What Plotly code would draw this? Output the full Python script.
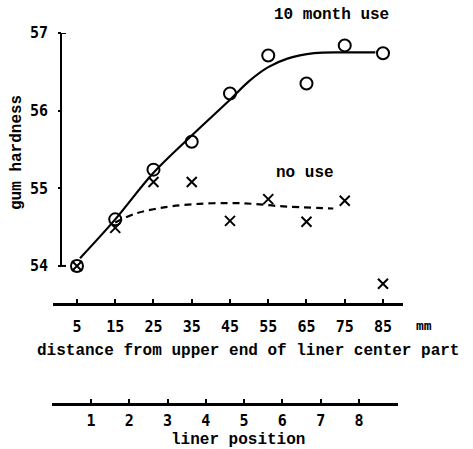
import plotly.graph_objects as go

W, H = 473, 449

# measured distance from the upper end of the liner centre part (mm)
distance_mm = [5, 15, 25, 35, 45, 55, 65, 75, 85]
# gum hardness after 10 months of use (circles)
hardness_10_month = [54.0, 54.6, 55.24, 55.6, 56.22, 56.71, 56.35, 56.84, 56.74]
# gum hardness without use (crosses)
hardness_no_use = [54.0, 54.49, 55.08, 55.08, 54.58, 54.86, 54.57, 54.84, 53.77]

# hand-drawn trend lines through the two series
trend_10_month_x = [5.8, 15, 25, 35, 45, 50, 55, 60, 67, 75, 83]
trend_10_month_y = [54.10, 54.60, 55.20, 55.68, 56.14, 56.38, 56.56, 56.67, 56.74, 56.75, 56.75]
trend_no_use_x = [15, 20, 25, 30, 37, 45, 51, 58, 72]
trend_no_use_y = [54.56, 54.67, 54.73, 54.77, 54.80, 54.81, 54.80, 54.77, 54.74]

# liner position scale shown beneath the distance scale
liner_positions = [1, 2, 3, 4, 5, 6, 7, 8]

hardness_ticks = [54, 55, 56, 57]
# visible span of the hardness scale; the plot range runs a little lower so
# readings below 54 still appear
hardness_axis_span = [54, 57]
hardness_range = [53.6, 57]

TEXT_FONT = dict(family="Liberation Mono", size=16, color="black", weight="bold")
TICK_FONT = dict(family="Liberation Sans Narrow, DejaVu Sans Mono", size=15,
                 color="black", weight="bold")

PX_PER_UNIT = 77.5  # vertical pixels per hardness unit


def px_x(x):
    return x / W


def px_y(y):
    return 1 - y / H


y_bottom_px = 266 + (hardness_axis_span[0] - hardness_range[0]) * PX_PER_UNIT

fig = go.Figure()

fig.add_trace(go.Scatter(
    x=trend_10_month_x, y=trend_10_month_y, mode="lines",
    line=dict(color="black", width=2.2, shape="spline", smoothing=1.0),
    hoverinfo="skip", showlegend=False,
))
fig.add_trace(go.Scatter(
    x=trend_no_use_x, y=trend_no_use_y, mode="lines",
    line=dict(color="black", width=2.2, dash="7px,5px", shape="spline", smoothing=1.0),
    hoverinfo="skip", showlegend=False,
))
fig.add_trace(go.Scatter(
    x=distance_mm, y=hardness_10_month, mode="markers", name="10 month use",
    marker=dict(symbol="circle-open", size=12, color="black", line=dict(width=2)),
    showlegend=False, cliponaxis=False,
))
fig.add_trace(go.Scatter(
    x=distance_mm, y=hardness_no_use, mode="markers", name="no use",
    marker=dict(symbol="x-thin", size=10, color="black", line=dict(width=2, color="black")),
    showlegend=False, cliponaxis=False,
))
# invisible trace that carries the liner position scale
fig.add_trace(go.Scatter(
    x=liner_positions, y=[None] * len(liner_positions), xaxis="x2", yaxis="y2",
    mode="markers", hoverinfo="skip", showlegend=False,
))

fig.update_layout(
    width=W, height=H,
    margin=dict(l=0, r=0, t=0, b=0, pad=0, autoexpand=False),
    showlegend=False,
    paper_bgcolor="white", plot_bgcolor="rgba(0,0,0,0)",
    xaxis=dict(
        domain=[px_x(53), px_x(403)],
        range=[-1.27, 90.23],
        anchor="free", position=px_y(304),
        tickvals=distance_mm, ticktext=[str(v) for v in distance_mm],
        showline=True, linecolor="black", linewidth=2.5,
        ticks="inside", ticklen=4, tickwidth=1.5, tickcolor="black",
        ticklabelstandoff=8, automargin=False,
        tickfont=TICK_FONT, showgrid=False, zeroline=False,
    ),
    xaxis2=dict(
        domain=[px_x(52), px_x(398)],
        range=[-0.0185, 9.02],
        anchor="y2",
        tickvals=liner_positions, ticktext=[str(v) for v in liner_positions],
        showline=True, linecolor="black", linewidth=2.5,
        ticks="inside", ticklen=4, tickwidth=1.5, tickcolor="black",
        ticklabelstandoff=2, automargin=False,
        tickfont=TICK_FONT, showgrid=False, zeroline=False,
    ),
    yaxis=dict(
        domain=[px_y(y_bottom_px), px_y(33)],
        range=hardness_range,
        anchor="free", position=px_x(61),
        tickvals=hardness_ticks, ticktext=[str(v) for v in hardness_ticks],
        showline=False,
        ticks="outside", ticklen=3, tickwidth=1.5, tickcolor="black",
        ticklabelstandoff=7, automargin=False,
        tickfont=TICK_FONT, showgrid=False, zeroline=False,
    ),
    yaxis2=dict(
        domain=[px_y(403), px_y(398)],
        range=[0, 1], visible=False, anchor="x2", automargin=False,
    ),
)

# hardness axis line, drawn only over its labelled span, with short hooks at both ends
axis_x = px_x(61)
hook = 5 / W
fig.add_shape(type="line", xref="paper", yref="y", x0=axis_x, x1=axis_x,
              y0=hardness_axis_span[0], y1=hardness_axis_span[1],
              line=dict(color="black", width=2))
for end in hardness_axis_span:
    fig.add_shape(type="line", xref="paper", yref="y", x0=axis_x, x1=axis_x + hook,
                  y0=end, y1=end, line=dict(color="black", width=2))

annotations = [
    dict(text="10 month use", x=px_x(331), y=px_y(15), font=TEXT_FONT),
    dict(text="no use", x=px_x(305), y=px_y(173), font=TEXT_FONT),
    dict(text="gum hardness", x=px_x(17), y=px_y(153), textangle=-90, font=TEXT_FONT),
    dict(text="mm", x=px_x(424), y=px_y(325),
         font=dict(family="Liberation Sans Narrow, DejaVu Sans Mono", size=13,
                   color="black", weight="bold")),
    dict(text="distance from upper end of liner center part", x=px_x(248), y=px_y(351), font=TEXT_FONT),
    dict(text="liner position", x=px_x(238), y=px_y(440), font=TEXT_FONT),
]
for a in annotations:
    fig.add_annotation(xref="paper", yref="paper", showarrow=False,
                       xanchor="center", yanchor="middle", **a)

fig.write_html("out.html")
